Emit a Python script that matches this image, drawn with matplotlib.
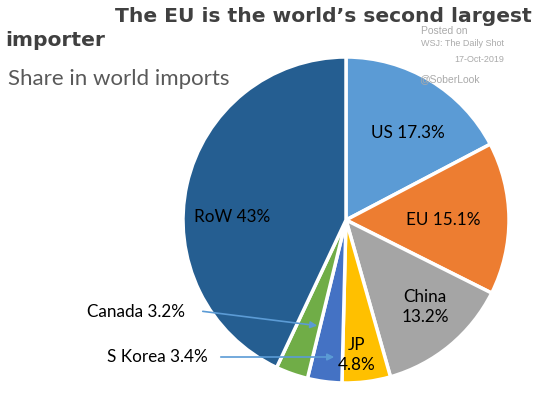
import matplotlib
matplotlib.use("Agg")
import matplotlib.pyplot as plt

categories = ["US", "EU", "China", "JP", "S Korea", "Canada", "RoW"]
shares = [17.3, 15.1, 13.2, 4.8, 3.4, 3.2, 43.0]
colors = ["#5B9BD5", "#ED7D31", "#A5A5A5", "#FFC000", "#4472C4", "#70AD47", "#255E91"]

W, H = 536, 395
fig = plt.figure(figsize=(W / 100, H / 100), dpi=100)
fig.patch.set_facecolor("white")

def px(x, y):
    return x / W, 1 - y / H

# pie axes: center (346,220), radius 163 px
cx, cy, r = 346, 220, 163
ax = fig.add_axes([(cx - r) / W, (H - cy - r) / H, 2 * r / W, 2 * r / H])
ax.pie(shares, colors=colors, startangle=90, counterclock=False,
       wedgeprops=dict(edgecolor="white", linewidth=2.5), radius=1)
ax.set_xlim(-1, 1)
ax.set_ylim(-1, 1)
ax.set_aspect("auto")
ax.axis("off")

lab_font = dict(family=["Lato", "DejaVu Sans"], fontsize=12.3, color="black")
fig.text(*px(408, 133), "US 17.3%", ha="center", va="center", **lab_font)
fig.text(*px(443, 220), "EU 15.1%", ha="center", va="center", **lab_font)
fig.text(*px(425, 307), "China\n13.2%", ha="center", va="center", linespacing=1.3, **lab_font)
fig.text(*px(357, 355), "JP\n4.8%", ha="center", va="center", linespacing=1.3, **lab_font)
fig.text(*px(232, 217), "RoW 43%", ha="center", va="center", **lab_font)
fig.text(*px(87, 312), "Canada 3.2%", ha="left", va="center", **lab_font)
fig.text(*px(107, 357), "S Korea 3.4%", ha="left", va="center", **lab_font)

arrow = dict(arrowstyle="-|>", color="#5B9BD5", lw=1.2, mutation_scale=10)
fig.add_artist(matplotlib.patches.FancyArrowPatch(px(200, 311), px(320, 326),
               transform=fig.transFigure, **arrow))
fig.add_artist(matplotlib.patches.FancyArrowPatch(px(218, 357), px(337, 357),
               transform=fig.transFigure, **arrow))

title_font = dict(family="DejaVu Sans", fontsize=14.6, fontweight="bold", color="#404040")
fig.text(*px(532, 17), "The EU is the world\u2019s second largest", ha="right", va="center", **title_font)
fig.text(*px(5, 40), "importer", ha="left", va="center", **title_font)

fig.text(*px(8, 79), "Share in world imports", ha="left", va="center",
         family=["Lato", "DejaVu Sans"], fontsize=16, color="#595959")

wm = dict(family="Liberation Sans", fontsize=6.5, color="#AAAAAA")
fig.text(*px(421, 31), "Posted on", ha="left", va="center", family="Liberation Sans", fontsize=7.5, color="#AAAAAA")
fig.text(*px(421, 44), "WSJ: The Daily Shot", ha="left", va="center", **wm)
fig.text(*px(504, 59), "17-Oct-2019", ha="right", va="center", **wm)
fig.text(*px(419, 79), "@SoberLook", ha="left", va="center", family="Liberation Sans", fontsize=7.5, color="#AAAAAA")

fig.savefig("out.png", dpi=100, facecolor="white")
